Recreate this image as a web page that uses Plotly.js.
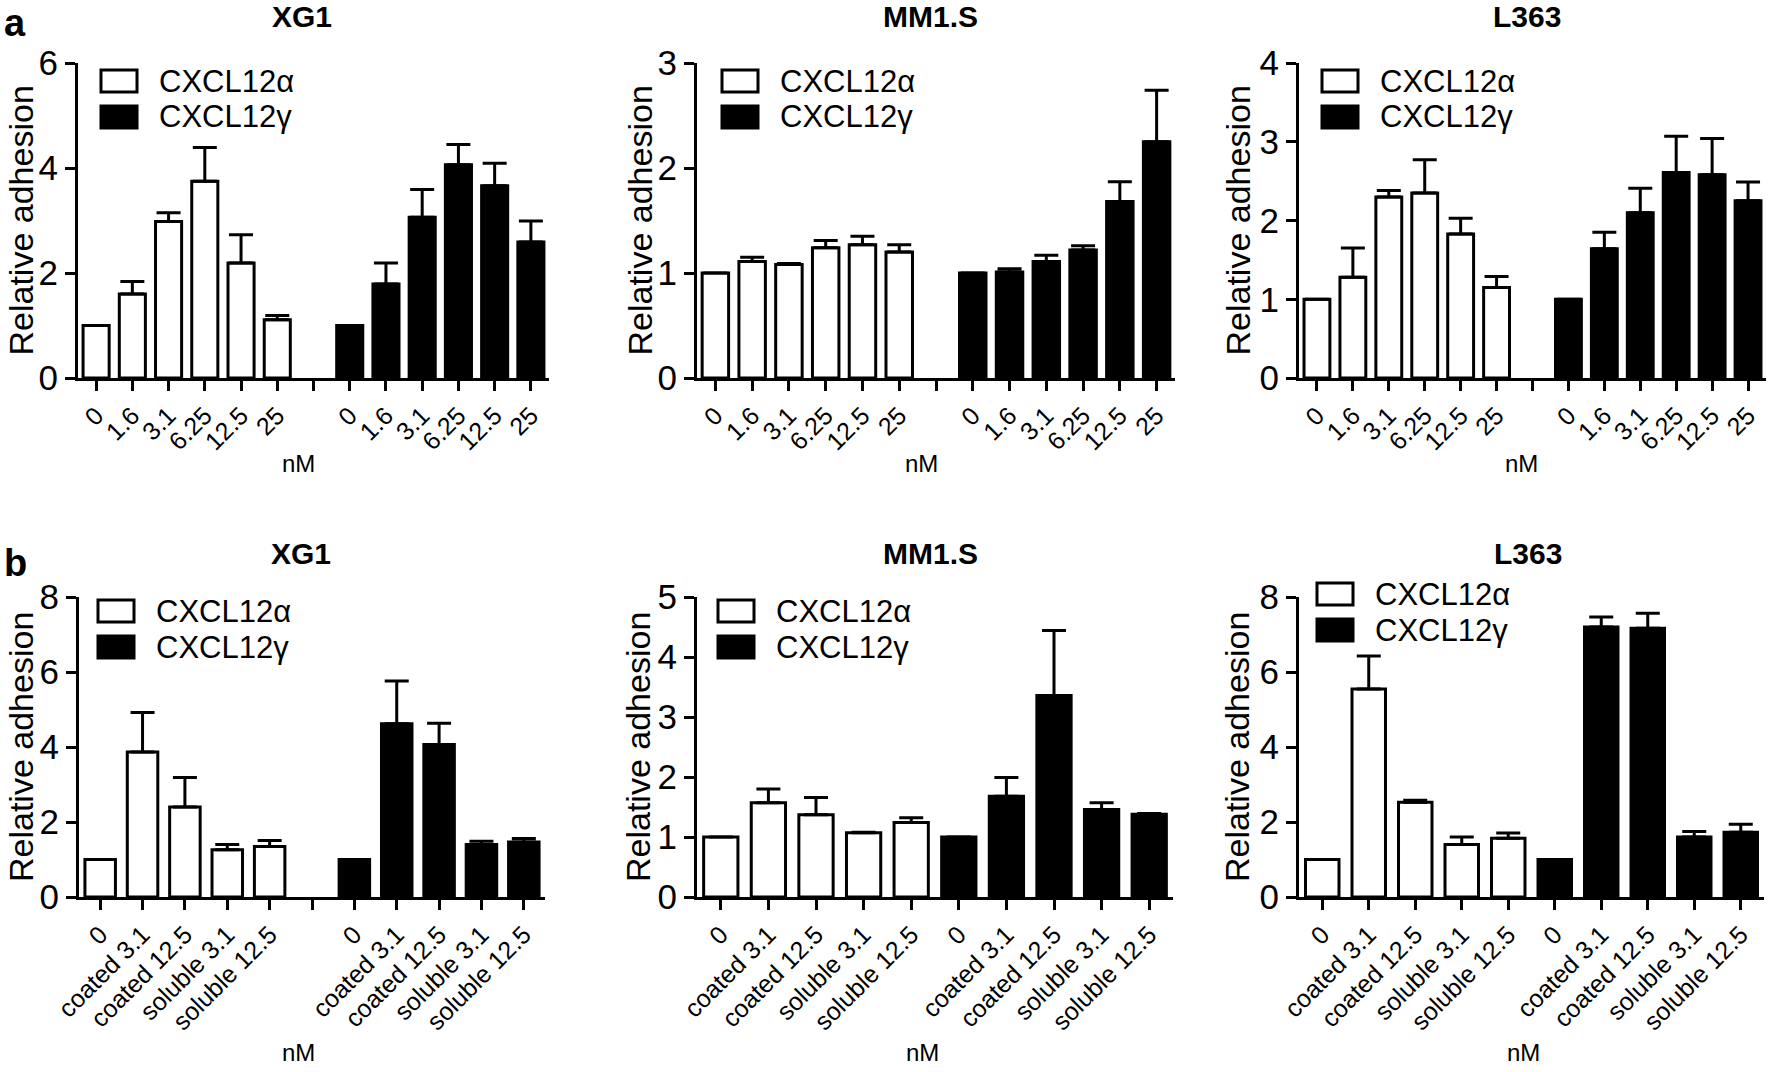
<!DOCTYPE html>
<html>
<head>
<meta charset="utf-8">
<script src="https://cdn.plot.ly/plotly-3.0.1.min.js"></script>
<style>
  body { margin: 0; background: #fff; }
  #chart { width: 1770px; height: 1072px; }
</style>
</head>
<body>
<div id="chart"></div>
<script>
// CXCL12 alpha vs gamma adhesion, six panels

const W = 1770
const H = 1072
const FONT = 'Arial, "Liberation Sans", sans-serif'

// TICK LABELS
const doseLabels = ['0', '1.6', '3.1', '6.25', '12.5', '25']
const formLabels = ['0', 'coated 3.1', 'coated 12.5', 'soluble 3.1', 'soluble 12.5']
const seriesNames = ['CXCL12α', 'CXCL12γ']

// ROW a - dose response (mean, upper error)
const xg1AlphaDose = [1.0, 1.60, 2.98, 3.75, 2.19, 1.11]
const xg1AlphaDoseErr = [0, 0.24, 0.17, 0.64, 0.54, 0.08]
const xg1GammaDose = [1.0, 1.79, 3.06, 4.06, 3.66, 2.59]
const xg1GammaDoseErr = [0, 0.40, 0.53, 0.39, 0.43, 0.40]

const mm1sAlphaDose = [1.0, 1.11, 1.08, 1.24, 1.27, 1.20]
const mm1sAlphaDoseErr = [0, 0.04, 0.01, 0.07, 0.08, 0.07]
const mm1sGammaDose = [1.0, 1.01, 1.11, 1.22, 1.68, 2.25]
const mm1sGammaDoseErr = [0, 0.03, 0.06, 0.04, 0.19, 0.49]

const l363AlphaDose = [1.0, 1.28, 2.30, 2.35, 1.83, 1.15]
const l363AlphaDoseErr = [0, 0.37, 0.08, 0.42, 0.20, 0.14]
const l363GammaDose = [1.0, 1.64, 2.10, 2.61, 2.58, 2.25]
const l363GammaDoseErr = [0, 0.21, 0.31, 0.46, 0.46, 0.24]

// ROW b - coated vs soluble
const xg1AlphaForm = [1.0, 3.87, 2.40, 1.26, 1.35]
const xg1AlphaFormErr = [0, 1.05, 0.79, 0.14, 0.16]
const xg1GammaForm = [1.0, 4.62, 4.07, 1.40, 1.47]
const xg1GammaFormErr = [0, 1.14, 0.56, 0.09, 0.09]

const mm1sAlphaForm = [1.0, 1.57, 1.37, 1.07, 1.24]
const mm1sAlphaFormErr = [0, 0.23, 0.29, 0.01, 0.08]
const mm1sGammaForm = [1.0, 1.68, 3.36, 1.46, 1.38]
const mm1sGammaFormErr = [0, 0.31, 1.08, 0.11, 0.01]

const l363AlphaForm = [1.0, 5.55, 2.53, 1.40, 1.57]
const l363AlphaFormErr = [0, 0.88, 0.05, 0.20, 0.14]
const l363GammaForm = [1.0, 7.20, 7.17, 1.60, 1.73]
const l363GammaFormErr = [0, 0.27, 0.40, 0.15, 0.21]

// PANEL GEOMETRY (pixels on the 1770x1072 page)
const frames = [
  { box: [78, 63, 549, 378], ymax: 6, dtick: 2, gap: true, title: [302, 17], yTitle: 20, nm: [298, 463], leg: [101, 70] },
  { box: [697, 63, 1175, 378], ymax: 3, dtick: 1, gap: true, title: [930, 17], yTitle: 639, nm: [921, 463], leg: [722, 70] },
  { box: [1299, 63, 1766, 378], ymax: 4, dtick: 1, gap: true, title: [1527, 17], yTitle: 1237, nm: [1521, 463], leg: [1322, 70] },
  { box: [79, 597, 545, 897], ymax: 8, dtick: 2, gap: true, title: [301, 553], yTitle: 21, nm: [298, 1052], leg: [98, 600] },
  { box: [697, 597, 1173, 897], ymax: 5, dtick: 1, gap: false, title: [931, 553], yTitle: 638, nm: [923, 1052], leg: [718, 600] },
  { box: [1299, 597, 1764, 897], ymax: 8, dtick: 2, gap: false, title: [1528, 553], yTitle: 1237, nm: [1523, 1052], leg: [1317, 583] },
]

const panels = [
  { name: 'XG1', labels: doseLabels, series: [[xg1AlphaDose, xg1AlphaDoseErr], [xg1GammaDose, xg1GammaDoseErr]] },
  { name: 'MM1.S', labels: doseLabels, series: [[mm1sAlphaDose, mm1sAlphaDoseErr], [mm1sGammaDose, mm1sGammaDoseErr]] },
  { name: 'L363', labels: doseLabels, series: [[l363AlphaDose, l363AlphaDoseErr], [l363GammaDose, l363GammaDoseErr]] },
  { name: 'XG1', labels: formLabels, series: [[xg1AlphaForm, xg1AlphaFormErr], [xg1GammaForm, xg1GammaFormErr]] },
  { name: 'MM1.S', labels: formLabels, series: [[mm1sAlphaForm, mm1sAlphaFormErr], [mm1sGammaForm, mm1sGammaFormErr]] },
  { name: 'L363', labels: formLabels, series: [[l363AlphaForm, l363AlphaFormErr], [l363GammaForm, l363GammaFormErr]] },
]

const fills = ['white', 'black']

function px(x) { return x / W }
function py(y) { return 1 - y / H }

const traces = []
const annotations = []
const shapes = []
const layout = {
  width: W,
  height: H,
  margin: { l: 0, r: 0, t: 0, b: 0 },
  paper_bgcolor: 'white',
  plot_bgcolor: 'white',
  showlegend: false,
  barmode: 'overlay',
  font: { family: FONT, color: 'black' },
}

function text(str, x, y, size, opts) {
  annotations.push(Object.assign({
    text: str,
    x: px(x),
    y: py(y),
    xref: 'paper',
    yref: 'paper',
    showarrow: false,
    xanchor: 'center',
    yanchor: 'middle',
    font: { family: FONT, size, color: 'black' },
  }, opts || {}))
}

panels.forEach((panel, i) => {
  const f = frames[i]
  const suffix = i === 0 ? '' : String(i + 1)
  const n = panel.labels.length
  const offset = n + (f.gap ? 1 : 0)
  const nCats = offset + n

  // tick labels, blank for the gap
  const tickvals = []
  const ticktext = []
  for (let k = 0; k < nCats; k += 1) {
    tickvals.push(k)
    if (k < n) ticktext.push(panel.labels[k])
    else if (k >= offset) ticktext.push(panel.labels[k - offset])
    else ticktext.push('')
  }

  panel.series.forEach((s, j) => {
    traces.push({
      type: 'bar',
      x: s[0].map((v, k) => k + j * offset),
      y: s[0],
      width: 0.72,
      xaxis: 'x' + suffix,
      yaxis: 'y' + suffix,
      name: seriesNames[j],
      marker: { color: fills[j], line: { color: 'black', width: 3 } },
      error_y: {
        type: 'data',
        symmetric: false,
        array: s[1],
        arrayminus: s[1].map(() => 0),
        color: 'black',
        thickness: 3,
        width: 12,
      },
    })
  })

  const [x0, y0, x1, y1] = f.box
  layout['xaxis' + suffix] = {
    domain: [px(x0), px(x1)],
    anchor: 'y' + suffix,
    range: [-0.5, nCats - 0.5],
    tickvals,
    ticktext,
    tickangle: -45,
    tickfont: { family: FONT, size: 25, color: 'black' },
    showline: true,
    linecolor: 'black',
    linewidth: 3,
    ticks: 'outside',
    ticklen: 10,
    tickwidth: 3,
    tickcolor: 'black',
    showgrid: false,
    zeroline: false,
    fixedrange: true,
  }
  layout['yaxis' + suffix] = {
    domain: [py(y1), py(y0)],
    anchor: 'x' + suffix,
    range: [0, f.ymax],
    dtick: f.dtick,
    tick0: 0,
    tickfont: { family: FONT, size: 35, color: 'black' },
    showline: true,
    linecolor: 'black',
    linewidth: 3,
    ticks: 'outside',
    ticklen: 10,
    tickwidth: 3,
    tickcolor: 'black',
    showgrid: false,
    zeroline: false,
    fixedrange: true,
  }

  // titles and axis labels
  text('<b>' + panel.name + '</b>', f.title[0], f.title[1], 30)
  text('Relative adhesion', f.yTitle, (y0 + y1) / 2, 34, { textangle: -90 })
  text('nM', f.nm[0], f.nm[1], 24)

  // legend boxes
  const [lx, ly] = f.leg
  seriesNames.forEach((nm, j) => {
    const top = ly + j * 36
    shapes.push({
      type: 'rect',
      xref: 'paper',
      yref: 'paper',
      x0: px(lx),
      x1: px(lx + 36),
      y0: py(top + 22),
      y1: py(top),
      fillcolor: fills[j],
      line: { color: 'black', width: 3 },
    })
    text(nm, lx + 56, top + 11, 31, { xanchor: 'left' })
  })
})

// panel letters
text('<b>a</b>', 15, 0, 38, { yanchor: 'top' })
text('<b>b</b>', 15, 540, 38, { yanchor: 'top' })

layout.annotations = annotations
layout.shapes = shapes

Plotly.newPlot('chart', traces, layout, { displayModeBar: false, staticPlot: true })
</script>
</body>
</html>
